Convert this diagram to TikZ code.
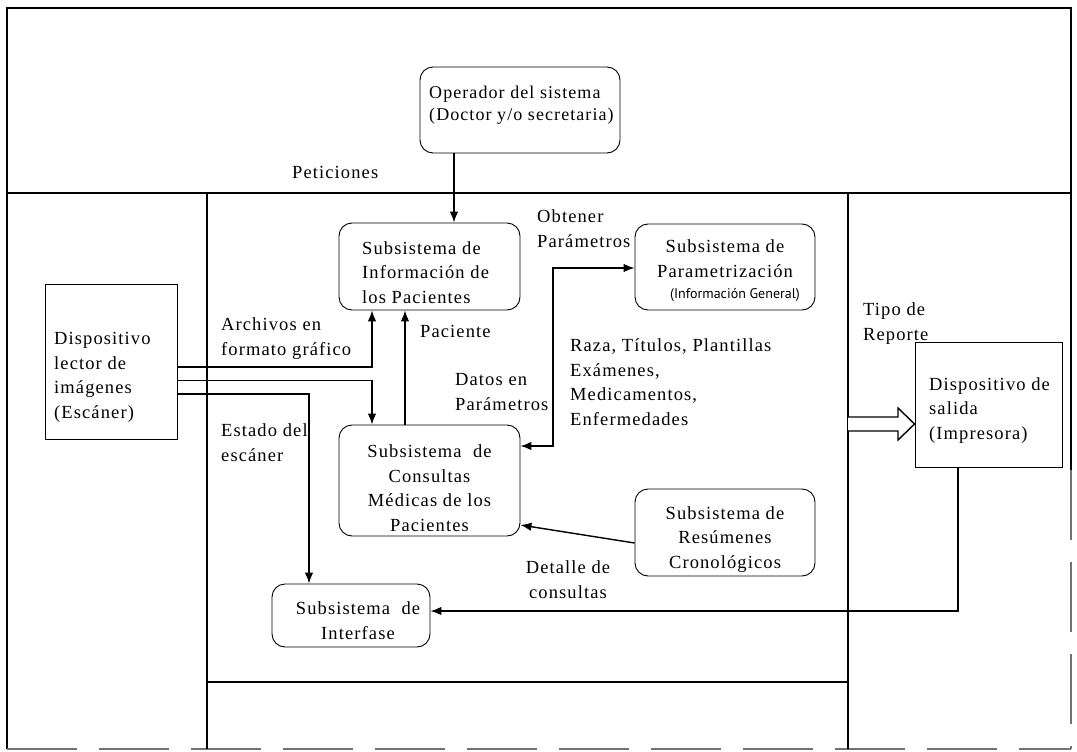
\documentclass[tikz,border=0pt]{standalone}
\usepackage{fontspec}
\setmainfont{Liberation Serif}[LetterSpace=6]
\newfontfamily\smallsans{PT Sans}
\usetikzlibrary{arrows.meta}

\begin{document}
\begin{tikzpicture}[x=1pt,y=-1pt,
  frame/.style={line width=1.5pt},
  faint/.style={line width=1.2pt, black!55, dash pattern=on 70pt off 22pt},
  sub/.style={draw, rounded corners=13pt, line width=0.9pt, inner sep=0pt},
  dev/.style={draw, line width=0.9pt, inner sep=0pt},
  txt/.style={inner sep=0pt, align=left, font=\fontsize{18.5}{24.5}\selectfont},
  ctxt/.style={txt, align=center},
  flow/.style={line width=1.4pt, -{Latex[length=11pt,width=8.5pt]}},
  both/.style={line width=1.4pt, {Latex[length=11pt,width=8.5pt]}-{Latex[length=11pt,width=8.5pt]}},
  hollow/.style={line width=1.4pt, fill=white, line join=miter},
]
\useasboundingbox (0,0) rectangle (1077,752);
\fill[white] (0,0) rectangle (1077,752);

% panel frame
\draw[frame] (7,749) -- (7,8) -- (1071,8) -- (1071,470);
\draw[faint] (1071,470) -- (1071,749);
\draw[faint] (7,749) -- (1071,749);
\draw[frame] (7,193) -- (1071,193);
\draw[frame] (207,193) -- (207,749);
\draw[frame] (848,193) -- (848,749);
\draw[frame] (207,682) -- (848,682);

% boxes
\node[sub, minimum width=200, minimum height=86] (oper) at (520,110) {};
\node[sub, minimum width=181, minimum height=87] (info) at (429.5,266.5) {};
\node[sub, minimum width=180, minimum height=86] (param) at (725,267) {};
\node[dev, minimum width=132, minimum height=155] (lector) at (111,361.5) {};
\node[sub, minimum width=181, minimum height=111] (consul) at (429.5,480.5) {};
\node[sub, minimum width=180, minimum height=87] (resum) at (725,532.5) {};
\node[sub, minimum width=158, minimum height=63] (interf) at (351,615.5) {};
\node[dev, minimum width=147, minimum height=125] (salida) at (988.5,405) {};

% box texts (each placed by the baseline of its last line)
\node[txt, anchor=base west, font=\fontsize{18}{22}\selectfont] (opertxt) at (429,121) {Operador del sistema\\(Doctor y/o secretaria)};
\node[txt, anchor=base west] (infotxt) at (362,303) {Subsistema de\\Información de\\los Pacientes};
\node[ctxt, anchor=base] (paramtxt) at (725,277) {Subsistema de\\Parametrización};
\node[inner sep=0pt, anchor=base, font=\smallsans\fontsize{14}{16}\selectfont] (paramsub) at (735,298) {(Información General)};
\node[txt, anchor=base west] (lectortxt) at (54,418) {Dispositivo\\lector de\\imágenes\\(Escáner)};
\node[ctxt, anchor=base] (consultxt) at (429.5,531) {Subsistema\hspace{0.3em} de\\Consultas\\Médicas de los\\Pacientes};
\node[ctxt, anchor=base] (resumtxt) at (725,568) {Subsistema de\\Resúmenes\\Cronológicos};
\node[ctxt, anchor=base] (interftxt) at (358,639) {Subsistema\hspace{0.3em} de\\Interfase};
\node[txt, anchor=base west] (salidatxt) at (929,439) {Dispositivo de\\salida\\(Impresora)};

% flow labels
\node[txt, anchor=base west] (petic) at (292,178) {Peticiones};
\node[txt, anchor=base west] (obten) at (537,247) {Obtener\\Parámetros};
\node[txt, anchor=base west] (archiv) at (221,355) {Archivos en\\formato gráfico};
\node[txt, anchor=base west] (pacien) at (420,337) {Paciente};
\node[txt, anchor=base west] (datos) at (455,410) {Datos en\\Parámetros};
\node[txt, anchor=base west] (raza) at (570,425) {Raza, Títulos, Plantillas\\Exámenes,\\Medicamentos,\\Enfermedades};
\node[txt, anchor=base west] (estado) at (221,461) {Estado del\\escáner};
\node[ctxt, anchor=base] (detalle) at (568,598) {Detalle de\\consultas};
\node[txt, anchor=base west] (tipo) at (863,340) {Tipo de\\Reporte};

% routing guides
\coordinate (xa) at (454,0);
\coordinate (xb) at (372,0);
\coordinate (xc) at (405,0);
\coordinate (xd) at (309,0);
\coordinate (xe) at (553,0);
\coordinate (xf) at (958,0);
\coordinate (ya) at (0,367);
\coordinate (yb) at (0,380.5);
\coordinate (yc) at (0,394);
\coordinate (yd) at (0,446);
\coordinate (ye) at (0,268);
\coordinate (yf) at (0,611);
\coordinate (yg) at (0,543);
\coordinate (yh) at (0,525);
\coordinate (yi) at (0,424);

% connectors
\draw[flow] (oper.south -| xa) -- (info.north -| xa);
\draw[flow] (lector.east |- ya) -- (xb |- ya) -- (info.south -| xb);
\draw[flow] (lector.east |- yb) -- (xb |- yb) -- (consul.north -| xb);
\draw[flow] (lector.east |- yc) -- (xd |- yc) -- (interf.north -| xd);
\draw[flow] (consul.north -| xc) -- (info.south -| xc);
\draw[both] (consul.east |- yd) -- (xe |- yd) -- (xe |- ye) -- (param.west |- ye);
\draw[flow] (resum.west |- yg) -- (consul.east |- yh);
\draw[flow] (salida.south -| xf) -- (xf |- yf) -- (interf.east |- yf);

% report type: hollow double-line arrow into the printer
\draw[hollow] (848,417) -- (898,417) -- (898,408) -- (salida.west |- yi) -- (898,440) -- (898,431) -- (848,431);
\end{tikzpicture}
\end{document}
